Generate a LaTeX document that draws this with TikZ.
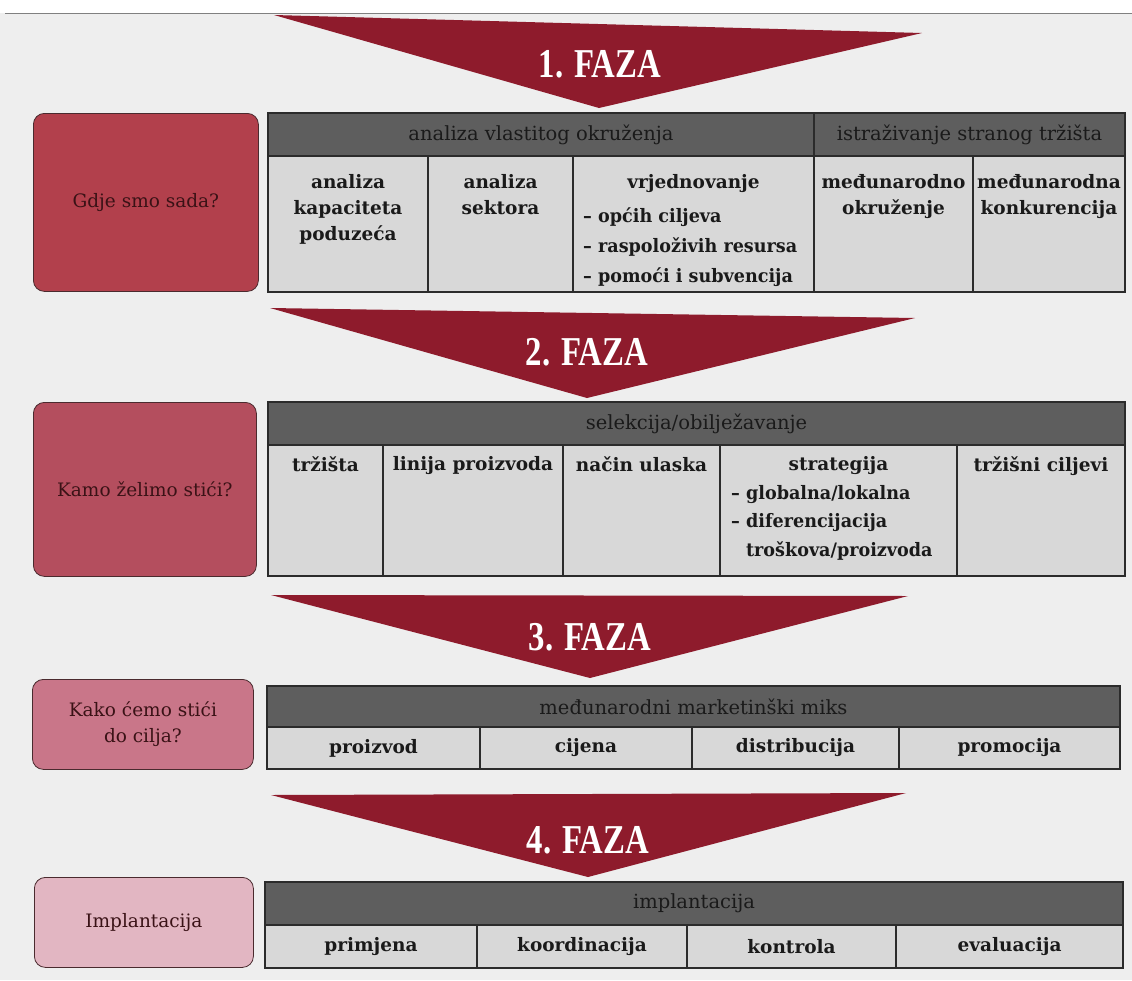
\documentclass[tikz,border=0pt]{standalone}
\usepackage{fontspec}
\setmainfont{DejaVu Serif}
\newfontfamily\fazafont[FakeStretch=0.8]{Liberation Serif}
\newfontfamily\listfont[FakeStretch=0.95]{DejaVu Serif}
\usetikzlibrary{calc}
\definecolor{paper}{HTML}{EEEEEE}
\definecolor{tri}{HTML}{8E1B2C}
\definecolor{boxA}{HTML}{B2404C}
\definecolor{boxB}{HTML}{B44E5E}
\definecolor{boxC}{HTML}{C97689}
\definecolor{boxD}{HTML}{E2B6C2}
\definecolor{boxline}{HTML}{4A2A2E}
\definecolor{boxtext}{HTML}{3A1216}
\definecolor{hdrfill}{HTML}{5E5E5E}
\definecolor{cellfill}{HTML}{D8D8D8}
\definecolor{cellline}{HTML}{2B2B2B}
\definecolor{txt}{HTML}{1A1A1A}
\newcommand\mkcell[7]{\node[#6, minimum width={(#4-#2)*1pt}, minimum height={(#5-#3)*1pt}] (#1) at (#2,#3) {#7};}
\begin{document}
\begin{tikzpicture}[x=1pt,y=-1pt,
  cellbase/.style={draw=cellline, line width=1.2pt, anchor=north west, inner sep=0pt, outer sep=0pt},
  cell/.style={cellbase, fill=cellfill, text=txt, font=\fontsize{18.5}{26}\selectfont\bfseries},
  hdr/.style={cellbase, fill=hdrfill, text=txt, font=\fontsize{19.5}{24}\selectfont},
  btext/.style={inner sep=0pt, text=txt, align=center, font=\fontsize{18.5}{26}\selectfont\bfseries},
  ltext/.style={btext, align=left, font=\listfont\fontsize{18.5}{30}\selectfont\bfseries},
  qbox/.style={draw=boxline, line width=0.8pt, rounded corners=11pt, anchor=north west, inner sep=0pt,
     text=boxtext, align=center, font=\fontsize{18.5}{26}\selectfont},
  faza/.style={fill=tri, draw=none},
  fazatext/.style={text=white, inner sep=0pt, font=\fontsize{41}{41}\fazafont\bfseries}]
\useasboundingbox (0,0) rectangle (1132,980);
\fill[white] (0,0) rectangle (1132,13);
\fill[paper] (0,13) rectangle (1132,980);
\draw[gray, line width=1pt] (5,13) -- (1132,13);

% ---------- phase 1
\fill[faza] (274,15) -- (922,33) -- (599,108) -- cycle;
\node[fazatext] (f1) at (600,64) {1. FAZA};
\mkcell{q1}{33}{113}{258}{291}{qbox, fill=boxA}{Gdje smo sada?}
\mkcell{h1a}{268}{113}{814}{156}{hdr}{analiza vlastitog okruženja}
\mkcell{h1b}{814}{113}{1125}{156}{hdr}{istraživanje stranog tržišta}
\mkcell{c1a}{268}{156}{428}{292}{cell}{}
\mkcell{c1b}{428}{156}{573}{292}{cell}{}
\mkcell{c1c}{573}{156}{814}{292}{cell}{}
\mkcell{c1d}{814}{156}{973}{292}{cell}{}
\mkcell{c1e}{973}{156}{1125}{292}{cell}{}
\node[btext, anchor=north] (t1a) at ($(c1a.north)+(0,18)$) {analiza\\kapaciteta\\poduzeća};
\node[btext, anchor=north] (t1b) at ($(c1b.north)+(0,18)$) {analiza\\sektora};
\node[btext, anchor=north] (t1c) at ($(c1c.north)+(0,18)$) {vrjednovanje};
\node[ltext, anchor=north west] (t1c2) at (583,207) {– općih ciljeva\\– raspoloživih resursa\\– pomoći i subvencija};
\node[btext, anchor=north] (t1d) at ($(c1d.north)+(0,18)$) {međunarodno\\okruženje};
\node[btext, anchor=north] (t1e) at ($(c1e.north)+(0,18)$) {međunarodna\\konkurencija};

% ---------- phase 2
\fill[faza] (270,308) -- (915,318) -- (587,398) -- cycle;
\node[fazatext] (f2) at (587,352) {2. FAZA};
\mkcell{q2}{33}{402}{256}{576}{qbox, fill=boxB}{Kamo želimo stići?}
\mkcell{h2}{268}{402}{1125}{445}{hdr}{selekcija/obilježavanje}
\mkcell{c2a}{268}{445}{383}{576}{cell}{}
\mkcell{c2b}{383}{445}{563}{576}{cell}{}
\mkcell{c2c}{563}{445}{720}{576}{cell}{}
\mkcell{c2d}{720}{445}{957}{576}{cell}{}
\mkcell{c2e}{957}{445}{1125}{576}{cell}{}
\node[btext, anchor=north] (t2a) at ($(c2a.north)+(0,11)$) {tržišta};
\node[btext, anchor=north] (t2b) at ($(c2b.north)+(0,11)$) {linija proizvoda};
\node[btext, anchor=north] (t2c) at ($(c2c.north)+(0,11)$) {način ulaska};
\node[btext, anchor=north] (t2d) at ($(c2d.north)+(0,11)$) {strategija};
\node[ltext, anchor=north west, font=\listfont\fontsize{18.5}{28.5}\selectfont\bfseries] (t2d2) at (731,485) {– globalna/lokalna\\– diferencijacija\\\phantom{– }troškova/proizvoda};
\node[btext, anchor=north] (t2e) at ($(c2e.north)+(0,11)$) {tržišni ciljevi};

% ---------- phase 3
\fill[faza] (271,595) -- (908,596) -- (590,678) -- cycle;
\node[fazatext] (f3) at (590,637) {3. FAZA};
\mkcell{q3}{32}{679}{253}{769}{qbox, fill=boxC}{Kako ćemo stići\\do cilja?}
\mkcell{h3}{267}{686}{1120}{727}{hdr}{međunarodni marketinški miks}
\mkcell{c3a}{267}{727}{480}{769}{cell}{proizvod}
\mkcell{c3b}{480}{727}{692}{769}{cell}{cijena}
\mkcell{c3c}{692}{727}{899}{769}{cell}{distribucija}
\mkcell{c3d}{899}{727}{1120}{769}{cell}{promocija}

% ---------- phase 4
\fill[faza] (271,795) -- (906,793) -- (588,877) -- cycle;
\node[fazatext] (f4) at (588,840) {4. FAZA};
\mkcell{q4}{34}{877}{253}{967}{qbox, fill=boxD}{Implantacija}
\mkcell{h4}{265}{882}{1123}{925}{hdr}{implantacija}
\mkcell{c4a}{265}{925}{477}{968}{cell}{primjena}
\mkcell{c4b}{477}{925}{687}{968}{cell}{koordinacija}
\mkcell{c4c}{687}{925}{896}{968}{cell}{kontrola}
\mkcell{c4d}{896}{925}{1123}{968}{cell}{evaluacija}
\end{tikzpicture}
\end{document}
